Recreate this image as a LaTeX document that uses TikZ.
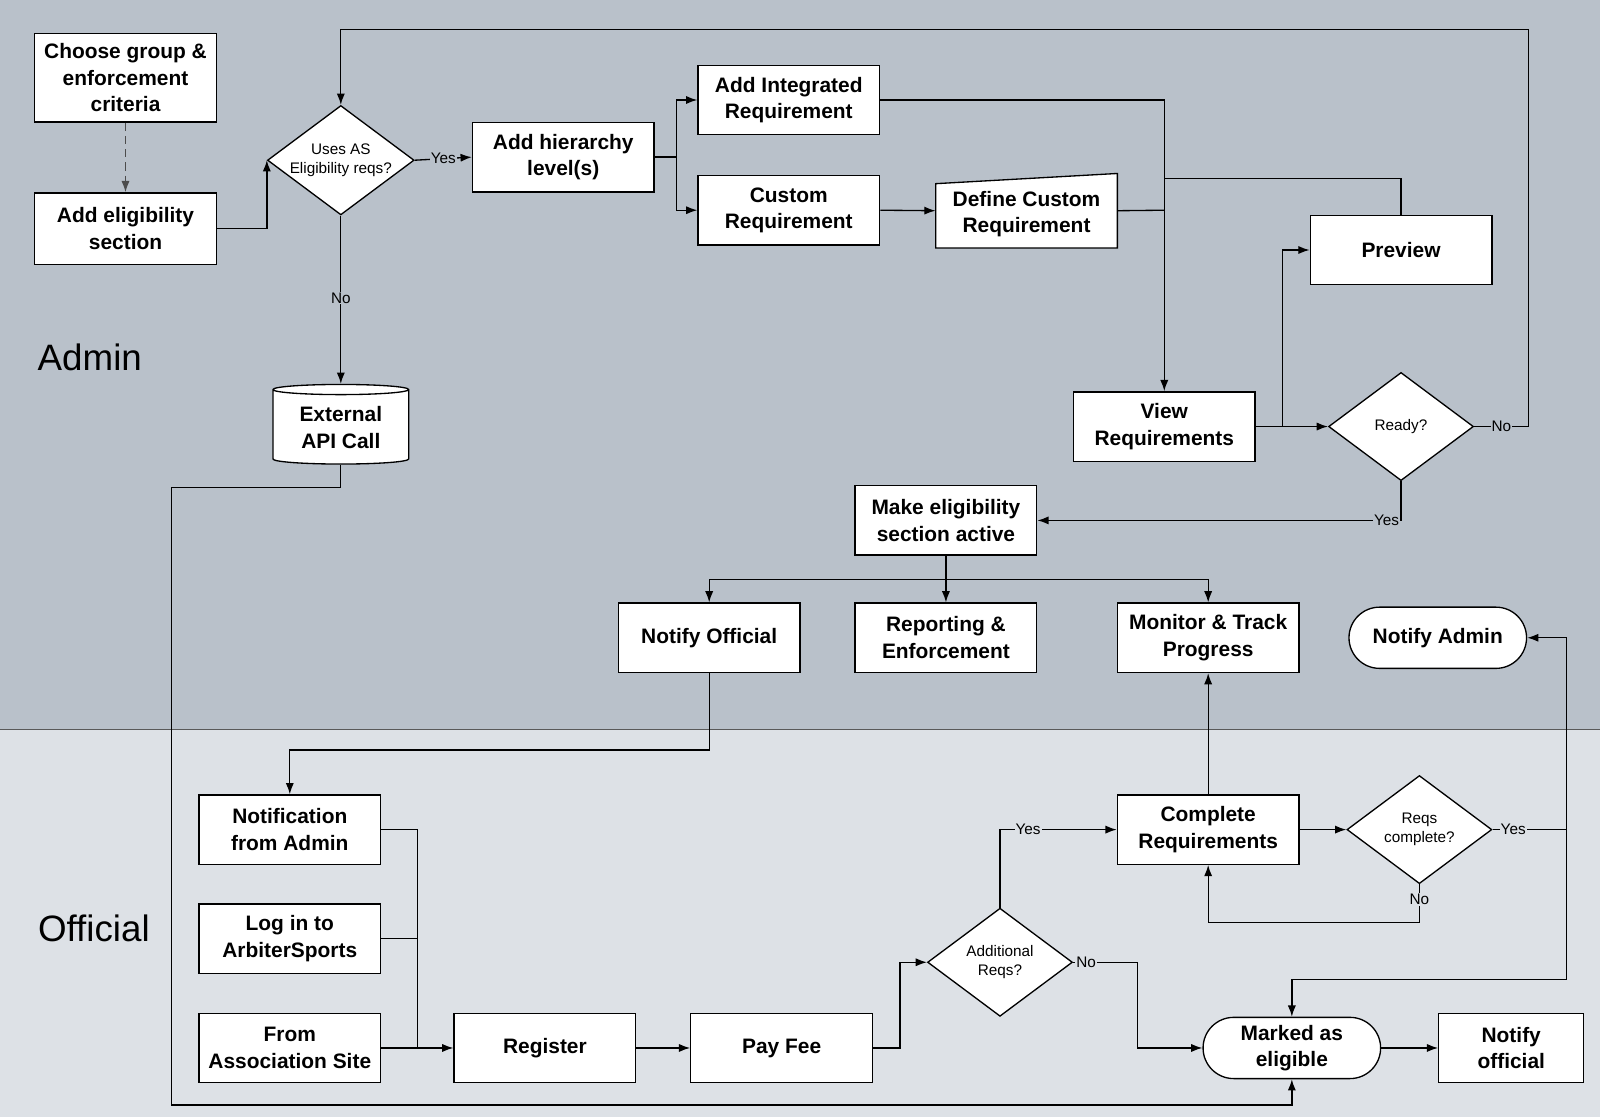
\documentclass[tikz,border=0pt]{standalone}
\usepackage{fontspec}
\setmainfont{Liberation Sans}
\usetikzlibrary{arrows.meta,shapes.geometric,shapes.misc}
\definecolor{adminbg}{HTML}{B9C1CA}
\definecolor{offbg}{HTML}{DDE1E6}
\tikzset{
 box/.style={draw,fill=white,line width=1.3pt,minimum width=178,minimum height=68,inner sep=2,align=center,font=\fontsize{20.5}{26}\selectfont\bfseries},
 dia/.style={draw,fill=white,diamond,aspect=1.34,line width=1.3pt,minimum width=142,minimum height=106,inner sep=0,align=center,font=\fontsize{15}{19}\selectfont},
 rbox/.style={box,rounded rectangle,minimum height=60},
 ln/.style={line width=1.3pt},
 ar/.style={ln,-{Latex[length=11,width=8]}},
 lab/.style={font=\fontsize{15}{18}\selectfont,inner sep=1},
}
\begin{document}
\begin{tikzpicture}[x=1pt,y=-1pt]
\useasboundingbox (0,0) rectangle (1568,1095);
\fill[adminbg] (0,0) rectangle (1568,715);
\fill[offbg] (0,715) rectangle (1568,1095);
\draw[gray!70!black,line width=1pt] (0,715) -- (1568,715);
\node[font=\fontsize{36}{40}\selectfont] (adm) at (88,350) {Admin};
\node[font=\fontsize{36}{40}\selectfont] (off) at (92,910) {Official};

\node[box,minimum height=87] (choose) at (123,76) {Choose group \&\\enforcement\\criteria};
\node[box,minimum height=70] (addelig) at (123,224) {Add eligibility\\section};
\node[dia] (uses) at (334,157) {Uses AS\\Eligibility reqs?};
\node[box] (hier) at (552,154) {Add hierarchy\\level(s)};
\node[box] (addint) at (773,98) {Add Integrated\\Requirement};
\node[box] (custom) at (773,206) {Custom\\Requirement};
\node[minimum width=178,minimum height=73,inner sep=0] (define) at (1006,206.5) {};
\draw[ln,fill=white] (917,180) -- (1095,170) -- (1095,243) -- (917,243) -- cycle;
\node[align=center,font=\fontsize{20.5}{26}\selectfont\bfseries] (definet) at (1006,210) {Define Custom\\Requirement};
\node[box] (preview) at (1373,245) {Preview};
\node[box] (view) at (1141,418) {View\\Requirements};
\node[dia] (ready) at (1373,418) {Ready?};
\node[draw,fill=white,cylinder,shape border rotate=90,aspect=0.12,line width=1.3pt,minimum width=133,minimum height=78,align=center,font=\fontsize{20.5}{26}\selectfont\bfseries,inner sep=1] (ext) at (334,419) {External\\API Call};
\node[box] (make) at (927,510) {Make eligibility\\section active};
\node[box] (notoff) at (695,625) {Notify Official};
\node[box] (rep) at (927,625) {Reporting \&\\Enforcement};
\node[box] (mon) at (1184,625) {Monitor \& Track\\Progress};
\node[rbox] (notadm) at (1409,625) {Notify Admin};
\node[box] (notif) at (284,813) {Notification\\from Admin};
\node[box] (login) at (284,920) {Log in to\\ArbiterSports};
\node[box] (from) at (284,1027) {From\\Association Site};
\node[box] (reg) at (534,1027) {Register};
\node[box] (pay) at (766,1027) {Pay Fee};
\node[dia] (addl) at (980,943) {Additional\\Reqs?};
\node[box] (comp) at (1184,813) {Complete\\Requirements};
\node[dia] (reqs) at (1391,813) {Reqs\\complete?};
\node[rbox] (marked) at (1266,1027) {Marked as\\eligible};
\node[box,minimum width=142] (notofl) at (1481,1027) {Notify\\official};

\draw[ar,dash pattern=on 8pt off 5pt,gray!60!black] (choose) -- (addelig);
\draw[ar] (addelig.east) -| (uses.west);
\draw[ar] (uses.east) -- node[lab,fill=adminbg,pos=0.5]{Yes} (hier.west);
\draw[ar] (uses.south) -- node[lab,fill=adminbg,pos=0.49]{No} (ext.north);
\draw[ln] (hier.east) -- (663,154) coordinate (hb);
\draw[ar] (hb) |- (addint.west);
\draw[ar] (hb) |- (custom.west);
\draw[ar] (custom.east) -- (define.west);
\draw[ar] (addint.east) -| (view.north);
\draw[ln] (define.east) -- (1141,206);
\draw[ln] (1141,175) coordinate (pj) -| (preview.north);
\draw[ar] (view.east) -- (ready.west);
\draw[ar] (1257,418) coordinate (vb) |- (preview.west);
\draw[ar] (ready.east) -- node[lab,fill=adminbg,pos=0.5]{No} (1498,418) -- (1498,29) -| (uses.north);
\draw[ar] (ready.south) |- node[lab,fill=adminbg,pos=0.52]{Yes} (make.east);
\draw[ln] (make.south) -- (927,568) coordinate (mb);
\draw[ar] (mb) -- (rep.north);
\draw[ar] (mb) -| (notoff.north);
\draw[ar] (mb) -| (mon.north);
\draw[ar] (notoff.south) -- (695,735) -| (notif.north);
\draw[ln] (notif.east) -| (409,1027);
\draw[ln] (login.east) -- (409,920);
\draw[ar] (from.east) -- (reg.west);
\draw[ar] (ext.south) -- (334,478) -| (168,1083) -| (marked.south);
\draw[ar] (reg) -- (pay);
\draw[ar] (pay.east) -- (882,1027) |- (addl.west);
\draw[ar] (addl.north) |- node[lab,fill=offbg,pos=0.62]{Yes} (comp.west);
\draw[ar] (addl.east) -- node[lab,fill=offbg,pos=0.2]{No} (1115,943) |- (marked.west);
\draw[ar] (comp.north) -- (mon.south);
\draw[ar] (comp.east) -- (reqs.west);
\draw[ar] (reqs.south) -- node[lab,fill=offbg,pos=0.4]{No} (1391,904) -| (comp.south);
\draw[ln] (reqs.east) -- node[lab,fill=offbg,pos=0.28]{Yes} (1535,813);
\draw[ar] (1535,813) |- (notadm.east);
\draw[ar] (1535,813) -- (1535,960) -| (marked.north);
\draw[ar] (marked.east) -- (notofl.west);
\end{tikzpicture}
\end{document}
